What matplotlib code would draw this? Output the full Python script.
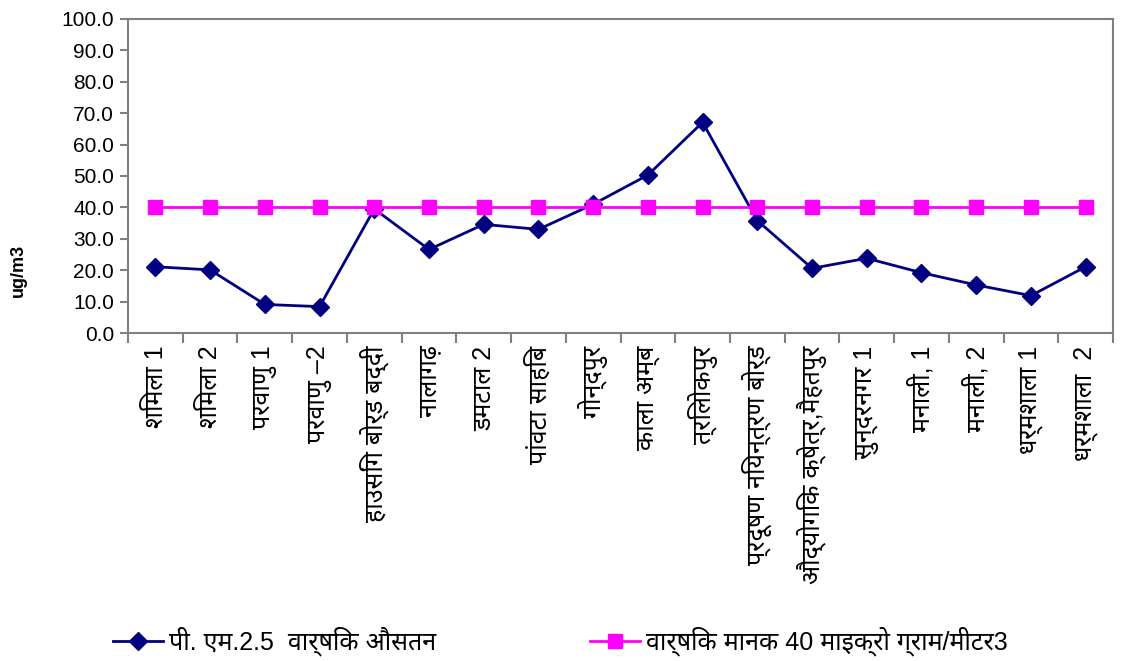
import matplotlib
matplotlib.use("Agg")
import matplotlib.pyplot as plt
from matplotlib import font_manager
from matplotlib.ticker import FixedLocator, NullFormatter

# Station names and values
stations = [
    "शिमला 1", "शिमला 2", "परवाणु 1", "परवाणु –2", "हाउसिंग बोर्ड बद्दी",
    "नालागढ़", "डमटाल 2", "पांवटा साहिब", "गोन्दपुर", "काला अम्ब",
    "त्रिलोकपुर", "प्रदूषण नियन्त्रण बोर्ड", "औद्योगिक क्षेत्र,मैहतपुर",
    "सुन्दरनगर 1", "मनाली, 1", "मनाली, 2", "धर्मशाला 1", "धर्मशाला  2",
]
pm25_avg = [21.1, 20.1, 9.1, 8.4, 39.5, 26.6, 34.6, 33.0, 41.0, 50.3,
            67.1, 35.8, 20.6, 23.8, 19.2, 15.3, 11.9, 21.1]
standard = [40.0] * len(stations)

label_avg = "पी. एम.2.5  वार्षिक औसतन"
label_std = "वार्षिक मानक 40 माइक्रो ग्राम/मीटर3"

# pick a Devanagari font that is installed
installed = {f.name for f in font_manager.fontManager.ttflist}
deva_family = None
for name in ["Noto Sans Devanagari", "Hind", "Mukta", "Lohit Devanagari",
             "FreeSans", "Anek Devanagari", "Akshar"]:
    if name in installed:
        deva_family = name
        break

families = ["Liberation Sans"]
if deva_family:
    families.append(deva_family)
families.append("DejaVu Sans")
plt.rcParams["font.family"] = families

fig = plt.figure(figsize=(11.28, 6.61), dpi=100)
ax = fig.add_axes([0.1135, 0.4962, 0.8732, 0.4751])

x = list(range(len(stations)))
ax.plot(x, pm25_avg, color="#000080", marker="D", markersize=9, linewidth=2,
        label=label_avg)
ax.plot(x, standard, color="#FF00FF", marker="s", markersize=10, linewidth=2,
        label=label_std)

ax.set_xlim(-0.5, len(stations) - 0.5)
ax.set_ylim(0, 100)
ax.set_yticks(range(0, 101, 10))
ax.set_yticklabels([f"{v:.1f}" for v in range(0, 101, 10)], fontsize=15)

# category labels centred, tick marks on boundaries
ax.set_xticks(x)
ax.set_xticklabels(stations, rotation=90, fontsize=18)
ax.tick_params(axis="x", which="major", length=0, pad=9)
ax.xaxis.set_minor_locator(FixedLocator([i - 0.5 for i in range(len(stations) + 1)]))
ax.xaxis.set_minor_formatter(NullFormatter())
ax.tick_params(axis="x", which="minor", length=7, color="#808080", width=1.5)
ax.tick_params(axis="y", length=6, color="#808080", width=1.5, pad=4)

for s in ax.spines.values():
    s.set_color("#808080")
    s.set_linewidth(1.5)

ax.set_ylabel("ug/m3", fontsize=13, fontweight="bold")
ax.yaxis.set_label_coords(-0.103, 0.2)

lines = ax.get_lines()
leg1 = fig.legend([lines[0]], [label_avg], loc="center left",
                  bbox_to_anchor=(0.1, 0.03), frameon=False, fontsize=18,
                  handlelength=2.0, handletextpad=0.25, borderpad=0,
                  borderaxespad=0)
leg2 = fig.legend([lines[1]], [label_std], loc="center left",
                  bbox_to_anchor=(0.523, 0.03), frameon=False, fontsize=18,
                  handlelength=2.0, handletextpad=0.25, borderpad=0,
                  borderaxespad=0)

fig.savefig("out.png", dpi=100)
